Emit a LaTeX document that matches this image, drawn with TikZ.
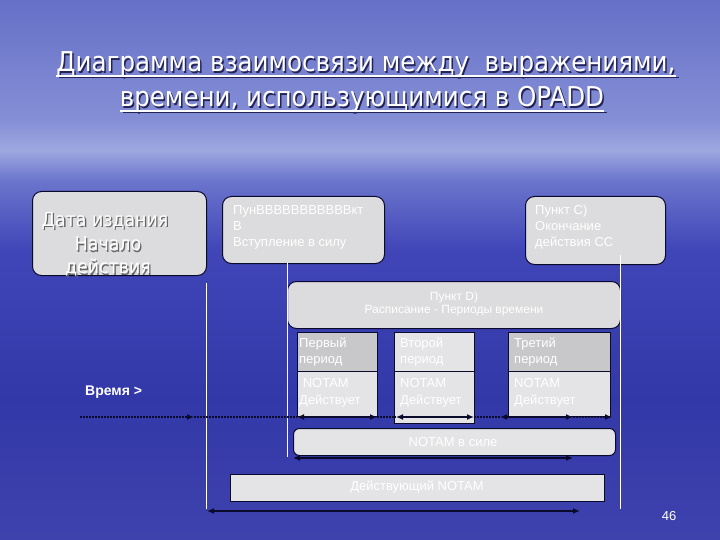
\documentclass[tikz,border=0pt]{standalone}
\usepackage{fontspec}
\setmainfont{Liberation Sans}
\newfontfamily\titlefont{DejaVu Sans Condensed}
\usetikzlibrary{arrows.meta}
\definecolor{edge}{RGB}{10,10,45}
\definecolor{boxfill}{RGB}{220,220,222}
\definecolor{hdrdark}{RGB}{200,200,202}
\definecolor{hdrlight}{RGB}{228,228,230}
\definecolor{bodyfill}{RGB}{228,228,230}
\definecolor{shadowc}{RGB}{35,35,85}
\pgfdeclareverticalshading{seasky}{100bp}{
 rgb(0bp)=(0.24,0.26,0.68);
 rgb(25bp)=(0.24,0.26,0.68);
 rgb(38bp)=(0.20,0.22,0.66);
 rgb(51.8bp)=(0.25,0.27,0.72);
 rgb(58.3bp)=(0.42,0.46,0.80);
 rgb(61.1bp)=(0.62,0.66,0.88);
 rgb(63.9bp)=(0.52,0.56,0.84);
 rgb(75bp)=(0.40,0.44,0.78);
 rgb(100bp)=(0.40,0.44,0.78)}
\begin{document}
\begin{tikzpicture}[x=1pt,y=-1pt,
  rbox/.style={draw=edge, line width=1pt, fill=boxfill, rounded corners=9pt, inner sep=0pt, anchor=north west},
  sbox/.style={draw=edge, line width=1pt, fill=boxfill, inner sep=0pt, anchor=north west},
  wtxt/.style={text=white, font=\fontsize{13}{16}\selectfont, inner sep=0pt},
  arrw/.style={line width=2.2pt, draw=edge, {Latex[length=7pt,width=6pt]}-{Latex[length=7pt,width=6pt]}},
  dotl/.style={line width=2.4pt, draw=edge, dash pattern=on 2pt off 1pt},
  vline/.style={draw=white, line width=0.8pt},
  ttl/.style={font=\titlefont\fontsize{27.3}{30}\selectfont, inner sep=0pt, anchor=base}]
\useasboundingbox (0,0) rectangle (720,540);
\shade[shading=seasky] (0,0) rectangle (720,540);

% title
\node[ttl, text=shadowc] (t1s) at (367.5,73.5) {Диаграмма взаимосвязи между\ \ выражениями,\ };
\node[ttl, text=shadowc] (t2s) at (363.5,108.5) {времени, использующимися в OPADD};
\coordinate (u1) at (0,77.5);
\coordinate (u2) at (0,112.5);
\draw[shadowc, line width=1.3pt] ([xshift=1.5pt]t1s.west |- u1) -- ([xshift=1.5pt]t1s.east |- u1);
\draw[shadowc, line width=1.3pt] ([xshift=1.5pt]t2s.west |- u2) -- ([xshift=1.5pt]t2s.east |- u2);
\node[ttl, text=white] (t1) at (366,72) {Диаграмма взаимосвязи между\ \ выражениями,\ };
\node[ttl, text=white] (t2) at (362,107) {времени, использующимися в OPADD};
\coordinate (v1) at (0,76);
\coordinate (v2) at (0,111);
\draw[white, line width=1.3pt] (t1.west |- v1) -- (t1.east |- v1);
\draw[white, line width=1.3pt] (t2.west |- v2) -- (t2.east |- v2);

% top boxes
\node[rbox, minimum width=174pt, minimum height=84pt] (b1) at (32,191) {};
\node[rbox, minimum width=162pt, minimum height=67pt] (b2) at (222,196) {};
\node[rbox, minimum width=140pt, minimum height=68pt] (b3) at (525,196) {};
\node[rbox, minimum width=333pt, minimum height=47pt] (bd) at (287,281) {};

% box 1 text (embossed)
\foreach \dx/\dy/\col in {1.3/1.3/gray!80!black, 0/0/white}{
  \node[inner sep=0pt, text=\col, font=\titlefont\fontsize{19.3}{23}\selectfont] at (105+\dx,221+\dy) {Дата издания};
  \node[inner sep=0pt, text=\col, font=\titlefont\fontsize{19.3}{23}\selectfont] at (108+\dx,244+\dy) {Начало};
  \node[inner sep=0pt, text=\col, font=\titlefont\fontsize{19.3}{23}\selectfont] at (108+\dx,268+\dy) {действия};
}
\node[wtxt, anchor=north west, align=left] (b2t) at (233,205) {ПунВВВВВВВВВВВкт\\В\\Вступление в силу};
\node[wtxt, anchor=north west, align=left] (b3t) at (535,205) {Пункт C)\\Окончание\\действия CC};
\node[wtxt, align=center, font=\fontsize{12}{12.5}\selectfont] (bdt) at (454,304) {Пункт D)\\Расписание - Периоды времени};

% period boxes
\node[sbox, fill=bodyfill, minimum width=80pt, minimum height=45pt] (p1b) at (297,371) {};
\node[sbox, fill=hdrdark, minimum width=80pt, minimum height=39pt] (p1h) at (297,332) {};
\node[sbox, fill=bodyfill, minimum width=80pt, minimum height=52pt] (p2b) at (394,371) {};
\node[sbox, fill=hdrlight, minimum width=80pt, minimum height=39pt] (p2h) at (394,332) {};
\node[sbox, fill=bodyfill, minimum width=102pt, minimum height=45pt] (p3b) at (508,371) {};
\node[sbox, fill=hdrdark, minimum width=102pt, minimum height=39pt] (p3h) at (508,332) {};
\node[wtxt, anchor=north west, align=left] (p1ht) at (299,338) {Первый\\период};
\node[wtxt, anchor=north west, align=left] (p2ht) at (400,338) {Второй\\период};
\node[wtxt, anchor=north west, align=left] (p3ht) at (514,338) {Третий\\период};
\node[wtxt, anchor=north west, align=left, font=\fontsize{13}{17}\selectfont] (p1bt) at (299,378) {\ NOTAM\\Действует};
\node[wtxt, anchor=north west, align=left, font=\fontsize{13}{17}\selectfont] (p2bt) at (400,378) {NOTAM\\Действует};
\node[wtxt, anchor=north west, align=left, font=\fontsize{13}{17}\selectfont] (p3bt) at (514,378) {NOTAM\\Действует};

% bottom boxes
\node[rbox, rounded corners=6pt, fill=bodyfill, minimum width=322pt, minimum height=27pt] (nv) at (293,428) {};
\node[wtxt] (nvt) at (453,442) {NOTAM в силе};
\node[sbox, fill=bodyfill, minimum width=374pt, minimum height=27pt] (dn) at (230,474) {};
\node[wtxt] (dnt) at (417,487) {Действующий NOTAM};

% vertical white lines
\coordinate (l1a) at (206,283); \coordinate (l1b) at (206,509);
\coordinate (l2a) at (287,263); \coordinate (l2b) at (287,457);
\coordinate (l3a) at (620,255); \coordinate (l3b) at (620,509);
\draw[vline] (l1a) -- (l1b);
\draw[vline] (l2a) -- (l2b);
\draw[vline] (l3a) -- (l3b);

% time axis
\coordinate (a0) at (80,417);
\coordinate (a1) at (194,417);
\coordinate (a2) at (297,417);
\coordinate (a3) at (377,417);
\coordinate (a4) at (396,417);
\coordinate (a5) at (474,417);
\coordinate (a6) at (500,417);
\coordinate (a7) at (573,417);
\coordinate (a8) at (612,417);
\draw[dotl, -{Latex[length=7pt,width=6pt]}] (a0) -- (a1);
\draw[dotl] (a1) -- (a2);
\draw[arrw] (a2) -- (a3);
\draw[dotl] (a3) -- (a4);
\draw[arrw] (a4) -- (a5);
\draw[dotl] (a5) -- (a6);
\draw[arrw] (a6) -- (a7);
\draw[dotl, -{Latex[length=7pt,width=6pt]}] (a7) -- (a8);

\coordinate (n0) at (293,458); \coordinate (n1) at (573,458);
\draw[arrw] (n0) -- (n1);
\coordinate (m0) at (207,511); \coordinate (m1) at (580,511);
\draw[arrw] (m0) -- (m1);

\node[text=white, font=\bfseries\fontsize{14}{16}\selectfont, inner sep=0pt, anchor=west] (time) at (85,392) {Время >};
\node[text=white, font=\fontsize{13}{15}\selectfont, inner sep=0pt] (pg) at (669,516) {46};
\end{tikzpicture}
\end{document}
